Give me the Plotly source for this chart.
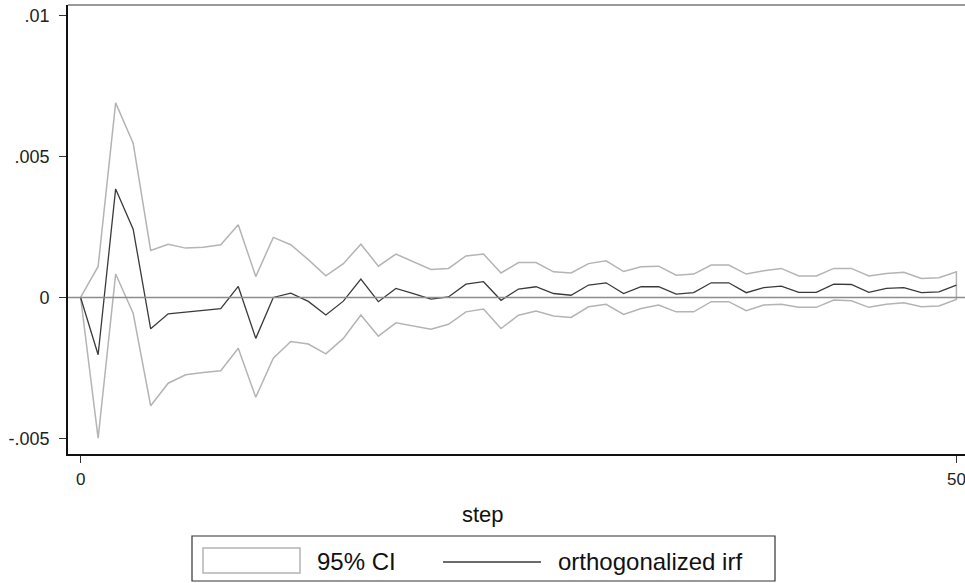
import plotly.graph_objects as go

steps = list(range(51))
irf = [0, -0.00203, 0.00385, 0.00242, -0.00111, -0.00058, -0.00052, -0.00046, -0.0004, 0.00039,
       -0.00145, 0.0, 0.00015, -0.00014, -0.00062, -0.00013, 0.00065, -0.00015, 0.00032, 0.00014,
       -0.00006, 0.00002, 0.00047, 0.00056, -0.0001, 0.0003, 0.00038, 0.00014, 0.00008, 0.00044,
       0.00052, 0.00014, 0.00038, 0.00038, 0.00012, 0.00017, 0.00052, 0.00052, 0.00017, 0.00035,
       0.0004, 0.00018, 0.00018, 0.00047, 0.00046, 0.00018, 0.00032, 0.00035, 0.00017, 0.0002,
       0.00044]
ci_upper = [0, 0.0011, 0.0069, 0.00547, 0.00167, 0.00189, 0.00175, 0.00178, 0.00187, 0.00258,
            0.00074, 0.00213, 0.00187, 0.00134, 0.00077, 0.0012, 0.00189, 0.00111, 0.00154, 0.00126,
            0.00099, 0.00103, 0.00147, 0.00154, 0.00087, 0.00124, 0.00124, 0.00091, 0.00087, 0.0012,
            0.0013, 0.00092, 0.00109, 0.00111, 0.00079, 0.00083, 0.00115, 0.00115, 0.00083, 0.00095,
            0.00103, 0.00076, 0.00076, 0.00103, 0.00103, 0.00076, 0.00085, 0.00089, 0.00067, 0.0007,
            0.00091]
ci_lower = [0, -0.00499, 0.00083, -0.00056, -0.00384, -0.00304, -0.00274, -0.00266, -0.0026, -0.0018,
            -0.00354, -0.00215, -0.00156, -0.00165, -0.002, -0.00145, -0.00062, -0.00137, -0.0009, -0.00102,
            -0.00113, -0.00095, -0.00051, -0.00041, -0.0011, -0.00063, -0.00048, -0.00066, -0.00071, -0.00033,
            -0.00024, -0.0006, -0.00039, -0.00027, -0.00051, -0.00051, -0.00015, -0.00015, -0.00047, -0.00027,
            -0.00024, -0.00035, -0.00035, -0.00009, -0.00012, -0.00035, -0.00024, -0.00019, -0.00033, -0.0003,
            -0.00007]
ytick_vals = [-0.005, 0, 0.005, 0.01]
ytick_text = ["-.005", "0", ".005", ".01"]
xtick_vals = [0, 50]
xtick_text = ["0", "50"]

W, H = 965, 583
L, R, T, B = 68, 0, 5, 129
PW, PH = W - L - R, H - T - B

def px(x):
    return (x - L) / PW

def py(y):
    return (H - B - y) / PH

CI_COLOR = "#b4b4b4"
IRF_COLOR = "#3a3a3a"
FONT = "Liberation Sans, Arial, sans-serif"

fig = go.Figure()
fig.add_trace(go.Scatter(
    x=steps + steps[::-1], y=ci_upper + ci_lower[::-1],
    mode="lines", fill="toself", fillcolor="rgba(255,255,255,0)",
    line=dict(color=CI_COLOR, width=1.5), name="95% CI", showlegend=False,
    hoverinfo="skip"))
fig.add_trace(go.Scatter(
    x=steps, y=irf, mode="lines", line=dict(color=IRF_COLOR, width=1.3),
    name="orthogonalized irf", showlegend=False))

shapes = [
    dict(type="line", xref="paper", x0=0, x1=1, yref="y", y0=0, y1=0,
         line=dict(color="#8c8c8c", width=1.5), layer="above"),
    dict(type="line", xref="paper", yref="paper", x0=0, x1=1, y0=1, y1=1,
         line=dict(color="#9a9a9a", width=2)),
    dict(type="rect", xref="paper", yref="paper", x0=px(192), x1=px(775), y0=py(581), y1=py(536),
         line=dict(color="#333333", width=1.2), fillcolor="white"),
    dict(type="rect", xref="paper", yref="paper", x0=px(203), x1=px(300), y0=py(573), y1=py(548),
         line=dict(color=CI_COLOR, width=1.5), fillcolor="white"),
    dict(type="line", xref="paper", yref="paper", x0=px(443), x1=px(541), y0=py(562), y1=py(562),
         line=dict(color=IRF_COLOR, width=1.5)),
]
annotations = [
    dict(xref="paper", yref="paper", x=px(315), y=py(561), text="95% CI", showarrow=False,
         xanchor="left", yanchor="middle", font=dict(family=FONT, size=24, color="#111")),
    dict(xref="paper", yref="paper", x=px(556), y=py(561), text="orthogonalized irf", showarrow=False,
         xanchor="left", yanchor="middle", font=dict(family=FONT, size=24, color="#111")),
    dict(xref="paper", yref="paper", x=px(483), y=py(514), text="step", showarrow=False,
         xanchor="center", yanchor="middle", font=dict(family=FONT, size=22, color="#111")),
]

fig.update_layout(
    width=W, height=H, margin=dict(l=L, r=R, t=T, b=B),
    paper_bgcolor="white", plot_bgcolor="white",
    shapes=shapes, annotations=annotations, showlegend=False,
    font=dict(family=FONT, size=17, color="#222"),
    xaxis=dict(range=[-0.72, 50.49], tickvals=xtick_vals, ticktext=xtick_text,
               showgrid=False, zeroline=False, showline=True, linecolor="#111", linewidth=1.6,
               ticks="outside", ticklen=7, tickcolor="#333", tickwidth=1.3,
               tickfont=dict(family=FONT, size=17, color="#222"), ticklabelstandoff=2,
               ticklabeloverflow="allow"),
    yaxis=dict(range=[-0.00555, 0.01037], tickvals=ytick_vals, ticktext=ytick_text,
               showgrid=False, zeroline=False, showline=True, linecolor="#111", linewidth=1.6,
               ticks="outside", ticklen=7, tickcolor="#333", tickwidth=1.3,
               tickfont=dict(family=FONT, size=18, color="#222"), ticklabelstandoff=6),
)

fig.write_html("out.html", config={"displayModeBar": False},
               post_script="document.body.style.margin='0';document.body.style.overflow='hidden';")
